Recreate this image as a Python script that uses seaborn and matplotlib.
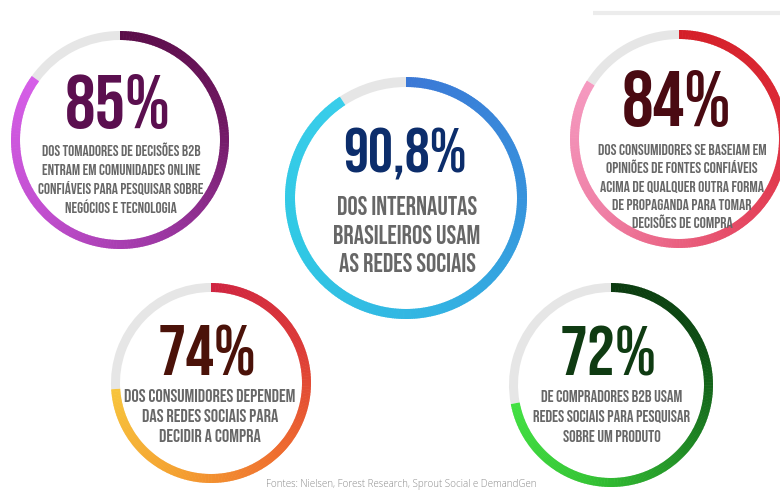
import numpy as np
import matplotlib
matplotlib.use("Agg")
import matplotlib.pyplot as plt
import seaborn as sns
from matplotlib.patches import Wedge
from matplotlib.collections import PatchCollection
from matplotlib import font_manager as fm

# ---------------- data ----------------
VALUES = [85, 90.8, 84, 74, 72]
NUMBER_LABELS = ["85%", "90,8%", "84%", "74%", "72%"]
DESC_1 = ["DOS TOMADORES DE DECISÕES B2B", "ENTRAM EM COMUNIDADES ONLINE",
          "CONFIÁVEIS PARA PESQUISAR SOBRE", "NEGÓCIOS E TECNOLOGIA"]
DESC_2 = ["DOS INTERNAUTAS", "BRASILEIROS USAM", "AS REDES SOCIAIS"]
DESC_3 = ["DOS CONSUMIDORES SE BASEIAM EM", "OPINIÕES DE FONTES CONFIÁVEIS",
          "ACIMA DE QUALQUER OUTRA FORMA", "DE PROPAGANDA PARA TOMAR",
          "DECISÕES DE COMPRA"]
DESC_4 = ["DOS CONSUMIDORES DEPENDEM", "DAS REDES SOCIAIS PARA", "DECIDIR A COMPRA"]
DESC_5 = ["DE COMPRADORES B2B USAM", "REDES SOCIAIS PARA PESQUISAR", "SOBRE UM PRODUTO"]
DESCRIPTIONS = [DESC_1, DESC_2, DESC_3, DESC_4, DESC_5]
SOURCE = "Fontes: Nielsen, Forest Research, Sprout Social e DemandGen"

# ---------------- style / layout ----------------
# ring geometry: centre x, centre y, outer radius, thickness (pixels)
GEOM = [(120, 140, 109, 9), (406, 198, 121, 10), (679, 139, 109, 9),
        (211, 383, 100, 9), (611, 385, 102, 9)]
STOPS = [
    ["#5a0c48", "#6e1760", "#9a35a0", "#c24fd0", "#d65ee8"],
    ["#3b78d6", "#3790dc", "#32b2e2", "#30c8e4", "#38cdea"],
    ["#d41f28", "#dc2a36", "#e64c68", "#ef80a6", "#f59ac0"],
    ["#cf2440", "#dc3a38", "#ee6a2e", "#f4a030", "#f7c43c"],
    ["#0b3a0f", "#0d4d14", "#1f8a24", "#35c535", "#42e042"],
]
NUM_COLORS = ["#5b0f4f", "#0c2d6b", "#4a0a12", "#4b1209", "#0f3b12"]
GRAY_TRACK = "#e6e6e6"
TEXT_GRAY = "#676767"
# number: centre x, baseline y, target width, max size
NUM_LAYOUT = [(118, 128, 115, 55), (405, 173, 140, 45), (677, 126, 112, 57),
              (207, 375, 99, 53), (608, 375, 97, 52)]
# description: centre x, first baseline, line step, ref line idx, ref width, max size
DESC_LAYOUT = [(121, 156, 19.0, 0, 160, 12), (407, 215, 28.5, 1, 149, 20),
               (682, 155, 18.3, 0, 170, 11.5), (210, 402, 20, 0, 174, 14),
               (612, 402, 20, 1, 160, 14)]

sns.set_theme(style="white")
names = {f.name for f in fm.fontManager.ttflist}
COND = next((n for n in ["Bebas Neue", "Oswald", "Roboto Condensed",
                         "Liberation Sans Narrow", "DejaVu Sans"] if n in names),
            "DejaVu Sans")
LIGHT = next((n for n in ["Open Sans", "Lato", "Noto Sans", "DejaVu Sans"] if n in names),
             "DejaVu Sans")
plt.rcParams["font.family"] = [COND, "DejaVu Sans"]

fig = plt.figure(figsize=(7.8, 4.91), dpi=100, facecolor="white")
ax = fig.add_axes([0, 0, 1, 1])
ax.set_xlim(0, 780)
ax.set_ylim(491, 0)
ax.axis("off")
renderer = fig.canvas.get_renderer()


def fit(texts, ref, target_w, max_size):
    bb = ref.get_window_extent(renderer)
    size = ref.get_fontsize() * target_w / max(bb.width, 1)
    size = min(size, max_size)
    for t in texts:
        t.set_fontsize(size)


# faint line at top right
ax.plot([593, 780], [13, 13], color="#ececec", lw=3, solid_capstyle="butt")

for i, val in enumerate(VALUES):
    cx, cy, R, w = GEOM[i]
    frac = val / 100.0
    # grey remainder track
    ax.add_patch(Wedge((cx, cy), R, -90 + 360 * frac, 270, width=w,
                       facecolor=GRAY_TRACK, edgecolor="none"))
    n = int(420 * frac)
    cols = sns.blend_palette(STOPS[i], n_colors=n)
    edges = np.linspace(0, 360 * frac, n + 1)
    patches = []
    for k in range(n):
        a1 = -90 + edges[k]
        a2 = -90 + min(edges[k + 1] + 0.35, 360 * frac)
        patches.append(Wedge((cx, cy), R, a1, a2, width=w))
    pc = PatchCollection(patches, facecolors=cols, edgecolors="none")
    ax.add_collection(pc)

    # big number
    nx, ny, nw, nmax = NUM_LAYOUT[i]
    t = ax.text(nx, ny, NUMBER_LABELS[i], ha="center", va="baseline",
                fontsize=40, fontweight="bold", fontstretch="condensed",
                color=NUM_COLORS[i])
    fit([t], t, nw, nmax)

    # description lines
    dx, dy, step, ref_i, dw, dmax = DESC_LAYOUT[i]
    lines = []
    for j, line in enumerate(DESCRIPTIONS[i]):
        lines.append(ax.text(dx, dy + j * step, line, ha="center", va="baseline",
                             fontsize=10, fontweight="bold", fontstretch="condensed",
                             color=TEXT_GRAY))
    fit(lines, lines[ref_i], dw, dmax)

src = ax.text(401, 487, SOURCE, ha="center", va="baseline", fontsize=8,
              color="#8c8c8c", family=[LIGHT, "DejaVu Sans"], fontweight="light")
fit([src], src, 272, 10)

fig.savefig("out.png", dpi=100, facecolor="white")
